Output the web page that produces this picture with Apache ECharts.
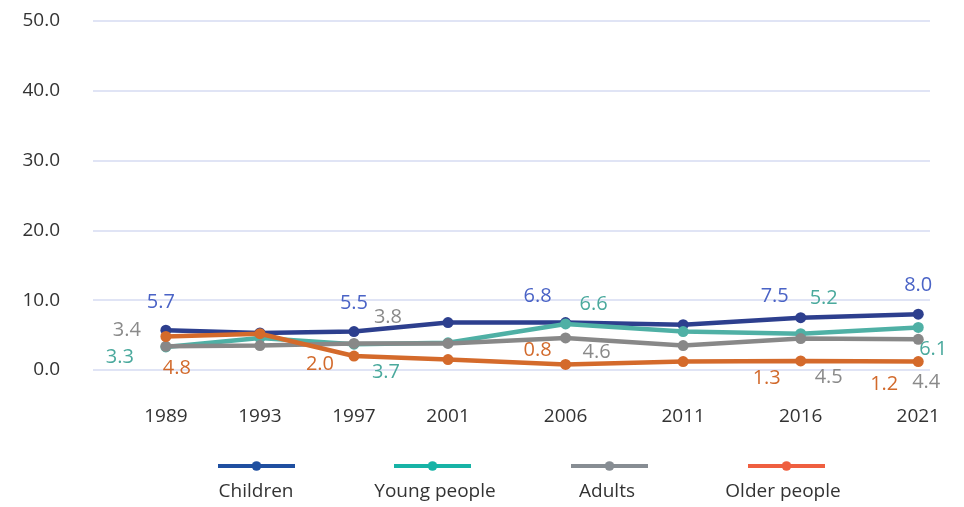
<!DOCTYPE html>
<html>
<head>
<meta charset="utf-8">
<script src="https://cdn.jsdelivr.net/npm/echarts@6/dist/echarts.min.js"></script>
<style>
  html, body { margin: 0; padding: 0; background: #ffffff; }
  #chart { width: 964px; height: 507px; }
</style>
</head>
<body>
<div id="chart"></div>
<script>
// Survey years and rates per group
const years = [1989, 1993, 1997, 2001, 2006, 2011, 2016, 2021];
const children = [5.7, 5.3, 5.5, 6.8, 6.8, 6.5, 7.5, 8.0];
const youngPeople = [3.3, 4.6, 3.7, 3.9, 6.6, 5.5, 5.2, 6.1];
const adults = [3.4, 3.5, 3.8, 3.8, 4.6, 3.5, 4.5, 4.4];
const olderPeople = [4.8, 5.2, 2.0, 1.5, 0.8, 1.2, 1.3, 1.2];
const yTicks = [0, 10, 20, 30, 40, 50];
const groupNames = ['Children', 'Young people', 'Adults', 'Older people'];

// Label placement around each labelled point: year -> [dx, dy]
const labelOffsets = {
  'Children':     {1989: [-5, -28], 1997: [0, -28], 2006: [-28, -26], 2016: [-26, -21], 2021: [0, -29]},
  'Young people': {1989: [-46, 10], 1997: [32, 28], 2006: [28, -20], 2016: [23, -35], 2021: [15, 22]},
  'Adults':       {1989: [-39, -16], 1997: [34, -26], 2006: [31, 14], 2016: [28, 39], 2021: [8, 43]},
  'Older people': {1989: [11, 32], 1997: [-34, 8], 2006: [-28, -14], 2016: [-34, 17], 2021: [-34, 23]}
};

const lineColors = ['#2d3f8e', '#4fb0a5', '#888888', '#d46a2b'];
const labelColors = ['#4a63c6', '#4aa99d', '#8a8a8a', '#d26a2c'];
const legendColors = ['#1f4fa0', '#17b3a6', '#878d93', '#ef5f40'];
const legendX = [216, 392, 569, 746];
const legendTextX = [256, 435, 607, 783];

const FONT = '"Open Sans", "Noto Sans", sans-serif';
const valuesByGroup = [children, youngPeople, adults, olderPeople];

function buildSeries(name, values, idx) {
  const offsets = labelOffsets[name];
  return {
    name: name,
    type: 'line',
    symbol: 'circle',
    symbolSize: 11,
    lineStyle: { width: 4.5, color: lineColors[idx] },
    itemStyle: { color: lineColors[idx] },
    emphasis: { disabled: true },
    z: 2 + idx,
    data: years.map((yr, i) => {
      const off = offsets[yr];
      return {
        value: [yr, values[i]],
        label: off ? {
          show: true,
          position: 'inside',
          offset: off,
          formatter: (p) => p.value[1].toFixed(1),
          color: labelColors[idx],
          fontSize: 20,
          fontFamily: FONT
        } : { show: false }
      };
    })
  };
}

const chart = echarts.init(document.getElementById('chart'), null, { renderer: 'canvas' });

const option = {
  backgroundColor: '#ffffff',
  animation: false,
  grid: { left: 93, right: 34, top: 21, bottom: 137, containLabel: false },
  xAxis: {
    type: 'value',
    min: 1985.9,
    max: 2021.5,
    axisLine: { show: false },
    axisTick: { show: false },
    splitLine: { show: false },
    axisLabel: {
      customValues: years,
      margin: 37,
      color: '#333333',
      fontSize: 19,
      fontFamily: FONT,
      formatter: (v) => String(v)
    }
  },
  yAxis: {
    type: 'value',
    min: 0,
    max: 50,
    interval: 10,
    axisLine: { show: false },
    axisTick: { show: false },
    axisLabel: {
      customValues: yTicks,
      margin: 33,
      color: '#333333',
      fontSize: 19,
      fontFamily: FONT,
      formatter: (v) => v.toFixed(1)
    },
    splitLine: { lineStyle: { color: '#e0e4f5', width: 2 } }
  },
  legend: groupNames.map((name, i) => ({
    data: [name],
    left: legendX[i],
    top: 460,
    padding: 0,
    itemWidth: 77,
    itemHeight: 12,
    selectedMode: false,
    formatter: () => '',
    itemStyle: { color: legendColors[i] },
    lineStyle: { color: legendColors[i], width: 4 }
  })),
  graphic: groupNames.map((name, i) => ({
    type: 'text',
    x: legendTextX[i],
    y: 492,
    style: {
      text: name,
      fill: '#333333',
      font: '19px ' + FONT,
      align: 'center',
      verticalAlign: 'middle',
      textAlign: 'center',
      textVerticalAlign: 'middle'
    }
  })),
  series: groupNames.map((name, i) => buildSeries(name, valuesByGroup[i], i))
};

chart.setOption(option);
</script>
</body>
</html>
